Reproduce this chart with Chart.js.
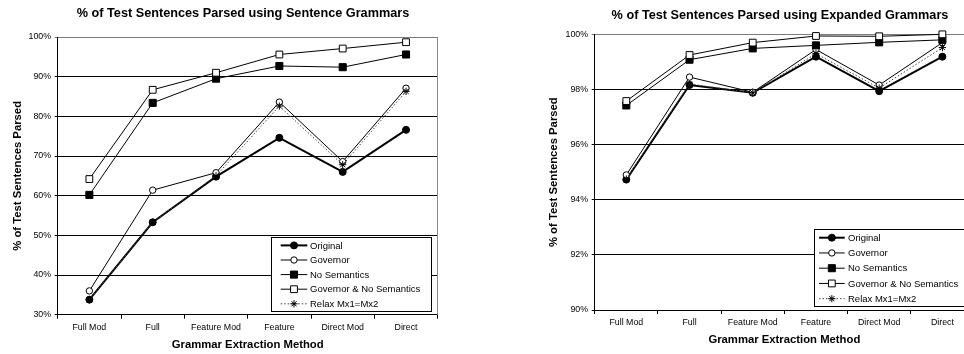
<!DOCTYPE html>
<html>
<head>
<meta charset="utf-8">
<script src="https://cdn.jsdelivr.net/npm/chart.js@4/dist/chart.umd.min.js"></script>
<style>
  html, body { margin: 0; padding: 0; background: #fff; }
  body { width: 964px; height: 354px; overflow: hidden; position: relative; }
  canvas { position: absolute; top: 0; }
  #sentence { left: 0; }
  #expanded { left: 484px; }
</style>
</head>
<body>
<canvas id="sentence" width="486" height="354"></canvas>
<canvas id="expanded" width="592" height="354"></canvas>
<script>
// Extraction methods along the x axis
const methods = ['Full Mod', 'Full', 'Feature Mod', 'Feature', 'Direct Mod', 'Direct'];
const seriesNames = ['Original', 'Governor', 'No Semantics', 'Governor & No Semantics', 'Relax Mx1=Mx2'];

// % of test sentences parsed, sentence grammars
const sentOriginal   = [33.8, 53.3, 64.8, 74.6, 66.0, 76.6];
const sentGovernor   = [36.0, 61.4, 65.8, 83.6, 68.6, 87.1];
const sentNoSem      = [60.2, 83.4, 89.5, 92.7, 92.4, 95.6];
const sentGovNoSem   = [64.2, 86.7, 91.0, 95.6, 97.1, 98.7];
const sentRelax      = [33.8, 53.3, 65.0, 82.6, 67.8, 86.3];
const sentTicks      = [30, 40, 50, 60, 70, 80, 90, 100];

// % of test sentences parsed, expanded grammars
const expOriginal    = [94.73, 98.16, 97.88, 99.19, 97.94, 99.19];
const expGovernor    = [94.90, 98.45, 97.90, 99.45, 98.16, 99.70];
const expNoSem       = [97.42, 99.08, 99.49, 99.60, 99.71, 99.80];
const expGovNoSem    = [97.58, 99.25, 99.70, 99.94, 99.93, 100.0];
const expRelax       = [94.75, 98.20, 97.88, 99.30, 98.05, 99.52];
const expTicks       = [90, 92, 94, 96, 98, 100];

const FONT = "'Liberation Sans', Arial, sans-serif";

// Marker / line look of each series
const looks = [
  { pointStyle: 'circle', pointRadius: 3.5, fill: '#000', borderWidth: 2,  borderColor: '#000', dash: [] },
  { pointStyle: 'circle', pointRadius: 3.2, fill: '#fff', borderWidth: 1,  borderColor: '#000', dash: [] },
  { pointStyle: 'rect',   pointRadius: 5,   fill: '#000', borderWidth: 1,  borderColor: '#000', dash: [] },
  { pointStyle: 'rect',   pointRadius: 4.8, fill: '#fff', borderWidth: 1,  borderColor: '#000', dash: [] },
  { pointStyle: 'star',   pointRadius: 3.6, fill: '#000', borderWidth: 1,  borderColor: '#444', dash: [1.5, 2] }
];

function makeDatasets(seriesValues) {
  return seriesValues.map((vals, i) => {
    const lk = looks[i];
    return {
      label: seriesNames[i],
      data: vals,
      yAxisID: 'y',
      borderColor: lk.borderColor,
      borderWidth: lk.borderWidth,
      borderDash: lk.dash,
      backgroundColor: lk.fill,
      pointStyle: lk.pointStyle,
      pointRadius: lk.pointRadius,
      pointHoverRadius: lk.pointRadius,
      pointBackgroundColor: lk.fill,
      pointBorderColor: '#000',
      pointBorderWidth: 1,
      tension: 0,
      fill: false,
      clip: false,
      order: seriesValues.length - i
    };
  });
}

// Legend drawn as a framed box inside the plot area
function drawMarker(ctx, style, r, fill, x, y) {
  ctx.save();
  ctx.fillStyle = fill;
  ctx.strokeStyle = '#000';
  ctx.lineWidth = 1;
  ctx.setLineDash([]);
  ctx.beginPath();
  if (style === 'circle') {
    ctx.arc(x, y, r, 0, Math.PI * 2);
    ctx.fill(); ctx.stroke();
  } else if (style === 'rect') {
    const s = r * Math.SQRT1_2;
    ctx.rect(x - s, y - s, 2 * s, 2 * s);
    ctx.fill(); ctx.stroke();
  } else {
    const d = r * Math.SQRT1_2;
    ctx.moveTo(x - r, y); ctx.lineTo(x + r, y);
    ctx.moveTo(x, y - r); ctx.lineTo(x, y + r);
    ctx.moveTo(x - d, y - d); ctx.lineTo(x + d, y + d);
    ctx.moveTo(x - d, y + d); ctx.lineTo(x + d, y - d);
    ctx.stroke();
  }
  ctx.restore();
}

const boxLegend = {
  id: 'boxLegend',
  afterDraw(chart, args, o) {
    const { ctx, chartArea } = chart;
    const x = Math.round(chartArea.right - o.insetRight - o.width);
    const y = Math.round(chartArea.bottom - o.insetBottom - o.height);
    ctx.save();
    ctx.fillStyle = '#fff';
    ctx.fillRect(x, y, o.width, o.height);
    ctx.strokeStyle = '#000';
    ctx.lineWidth = 1;
    ctx.strokeRect(x + 0.5, y + 0.5, Math.round(o.width), Math.round(o.height));
    ctx.font = o.fontSize + 'px ' + FONT;
    ctx.textBaseline = 'middle';
    ctx.textAlign = 'left';
    chart.data.datasets.forEach((ds, i) => {
      const cy = y + o.firstRow + i * o.rowGap;
      ctx.save();
      ctx.beginPath();
      ctx.setLineDash(ds.borderDash || []);
      ctx.lineWidth = ds.borderWidth;
      ctx.strokeStyle = ds.borderColor;
      ctx.moveTo(x + o.sampleFrom, cy);
      ctx.lineTo(x + o.sampleTo, cy);
      ctx.stroke();
      ctx.restore();
      drawMarker(ctx, ds.pointStyle, ds.pointRadius, ds.pointBackgroundColor,
                 x + (o.sampleFrom + o.sampleTo) / 2, cy);
      ctx.fillStyle = '#000';
      ctx.fillText(ds.label, x + o.textX, cy + 0.5);
    });
    ctx.restore();
  }
};

// Thin grey frame line on the right edge of the plot area
const plotFrame = {
  id: 'plotFrame',
  beforeDatasetsDraw(chart) {
    const { ctx, chartArea } = chart;
    ctx.save();
    ctx.strokeStyle = '#8a8a8a';
    ctx.lineWidth = 1;
    const xr = Math.round(chartArea.right) - 0.5;
    ctx.beginPath();
    ctx.moveTo(xr, chartArea.top);
    ctx.lineTo(xr, chartArea.bottom);
    ctx.stroke();
    ctx.restore();
  }
};

function buildChart(canvasId, cfg) {
  return new Chart(document.getElementById(canvasId), {
    type: 'line',
    data: { labels: methods, datasets: makeDatasets(cfg.series) },
    plugins: [plotFrame, boxLegend],
    options: {
      responsive: false,
      animation: false,
      devicePixelRatio: 1,
      layout: { padding: 0 },
      plugins: {
        legend: { display: false },
        tooltip: { enabled: false },
        title: {
          display: true,
          text: cfg.title,
          color: '#000',
          font: { family: FONT, size: 12.7, weight: 'bold', lineHeight: 1.2 },
          padding: cfg.titlePad
        },
        boxLegend: cfg.legend
      },
      scales: {
        x: {
          type: 'category',
          offset: true,
          grid: {
            display: true, drawOnChartArea: false, drawTicks: true,
            tickLength: 4, offset: true, color: '#000', lineWidth: 1
          },
          border: { display: true, color: '#000', width: 1 },
          ticks: {
            color: '#000', padding: cfg.xTickPad, maxRotation: 0, autoSkip: false,
            font: { family: FONT, size: 8.8, lineHeight: 1.2 }
          },
          title: {
            display: true, text: 'Grammar Extraction Method', color: '#000',
            font: { family: FONT, size: 11.3, weight: 'bold', lineHeight: 1.2 },
            padding: { top: 0, bottom: cfg.xTitlePad }
          },
          afterFit(s) { s.height = cfg.xHeight; }
        },
        y: {
          type: 'linear',
          position: 'left',
          min: cfg.ticks[0],
          max: cfg.ticks[cfg.ticks.length - 1],
          afterBuildTicks(s) { s.ticks = cfg.ticks.map(v => ({ value: v })); },
          grid: {
            display: true, drawOnChartArea: true, drawTicks: true, tickLength: 3,
            color: (c) => (c.tick && c.tick.value === cfg.ticks[cfg.ticks.length - 1]) ? '#7a7a7a' : '#000',
            lineWidth: 1
          },
          border: { display: true, color: '#000', width: 1 },
          ticks: {
            color: '#000', padding: 3.7,
            font: { family: FONT, size: 8.8, lineHeight: 1.2 },
            callback: (v) => v + '%'
          },
          title: {
            display: true, text: '% of Test Sentences Parsed', color: '#000',
            font: { family: FONT, size: 11.3, weight: 'bold', lineHeight: 1.2 },
            padding: { top: cfg.yTitlePad, bottom: 0 }
          },
          afterFit(s) { s.width = cfg.yWidth; }
        },
        pad: {
          type: 'linear',
          axis: 'y',
          position: 'right',
          display: true,
          grid: { display: false, drawTicks: false },
          border: { display: false },
          ticks: { display: false },
          afterFit(s) { s.width = cfg.rightSpace; }
        }
      }
    }
  });
}

buildChart('sentence', {
  title: '% of Test Sentences Parsed using Sentence Grammars',
  series: [sentOriginal, sentGovernor, sentNoSem, sentGovNoSem, sentRelax],
  ticks: sentTicks,
  titlePad: { top: 6.1, bottom: 15.7 },
  xTickPad: 4, xTitlePad: 2.7, xHeight: 39.3,
  yTitlePad: 11.2, yWidth: 57.7, rightSpace: 48.3,
  legend: { width: 160, height: 74, insetRight: 6.7, insetBottom: 3.4,
            firstRow: 8.4, rowGap: 14.6, sampleFrom: 9.7, sampleTo: 36.3, textX: 39, fontSize: 9.5 }
});

buildChart('expanded', {
  title: '% of Test Sentences Parsed using Expanded Grammars',
  series: [expOriginal, expGovernor, expNoSem, expGovNoSem, expRelax],
  ticks: expTicks,
  titlePad: { top: 7.4, bottom: 11.7 },
  xTickPad: 3.4, xTitlePad: 6.9, xHeight: 44,
  yTitlePad: 63.2, yWidth: 110.7, rightSpace: 102,
  legend: { width: 153, height: 77.3, insetRight: 6.7, insetBottom: 3.7,
            firstRow: 8.7, rowGap: 15.25, sampleFrom: 5, sampleTo: 30.7, textX: 34, fontSize: 9.5 }
});
</script>
</body>
</html>
